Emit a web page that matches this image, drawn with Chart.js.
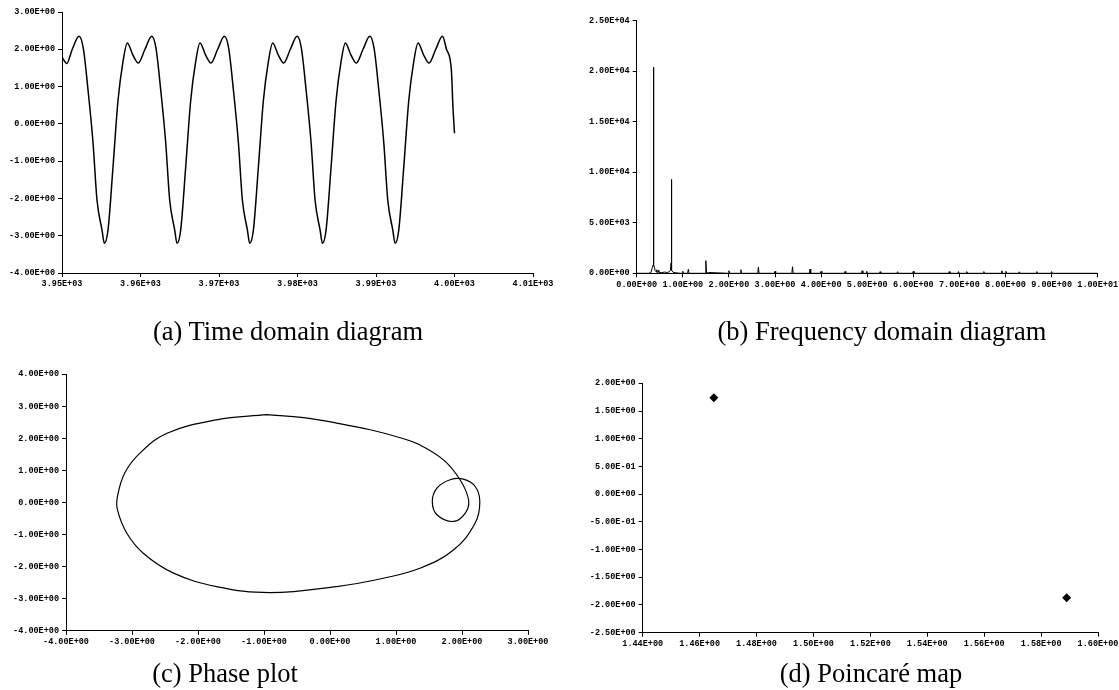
<!DOCTYPE html>
<html>
<head>
<meta charset="utf-8">
<script src="https://cdn.jsdelivr.net/npm/chart.js@4"></script>
<style>
html, body { margin: 0; padding: 0; width: 1119px; height: 690px; overflow: hidden; background: #fff; }
canvas { position: absolute; left: 0; top: 0; }
.cap { position: absolute; font-family: "Liberation Serif", "Times New Roman", serif; font-size: 26.5px; line-height: 1; white-space: nowrap; transform: translateX(-50%); color: #000; }
</style>
</head>
<body>
<canvas id="timeChart" width="1200" height="690"></canvas>
<canvas id="freqChart" width="1200" height="690"></canvas>
<canvas id="phaseChart" width="1200" height="690"></canvas>
<canvas id="poinChart" width="1200" height="690"></canvas>
<div class="cap" style="left:288px; top:318px">(a) Time domain diagram</div>
<div class="cap" style="left:882px; top:318px">(b) Frequency domain diagram</div>
<div class="cap" style="left:225px; top:660px">(c) Phase plot</div>
<div class="cap" style="left:871px; top:660px">(d) Poincaré map</div>
<script>
// (a) time domain
var timeT = [3950.00, 3950.60, 3951.31,
  3952.17, 3952.72, 3953.32, 3953.95, 3954.46, 3955.10, 3955.39, 3955.86, 3956.50, 3957.14, 3957.74, 3958.32, 3959.02, 3959.72, 3960.57,
  3961.43, 3961.98, 3962.58, 3963.21, 3963.72, 3964.36, 3964.65, 3965.12, 3965.76, 3966.40, 3967.00, 3967.58, 3968.28, 3968.98, 3969.83,
  3970.69, 3971.24, 3971.84, 3972.47, 3972.98, 3973.62, 3973.91, 3974.38, 3975.02, 3975.66, 3976.26, 3976.84, 3977.54, 3978.24, 3979.09,
  3979.95, 3980.50, 3981.10, 3981.73, 3982.24, 3982.88, 3983.17, 3983.64, 3984.28, 3984.92, 3985.52, 3986.10, 3986.80, 3987.50, 3988.35,
  3989.21, 3989.76, 3990.36, 3990.99, 3991.50, 3992.14, 3992.43, 3992.90, 3993.54, 3994.18, 3994.78, 3995.36, 3996.06, 3996.76, 3997.61,
  3998.47, 3998.98, 3999.60, 3999.80, 4000.00];
var timeV = [1.79, 1.62, 2.00,
  2.35, 2.02, 0.90, -0.50, -2.05, -2.85, -3.20, -2.85, -1.15, 0.64, 1.63, 2.17, 1.85, 1.63, 2.00,
  2.35, 2.02, 0.90, -0.50, -2.05, -2.85, -3.20, -2.85, -1.15, 0.64, 1.63, 2.17, 1.85, 1.63, 2.00,
  2.35, 2.02, 0.90, -0.50, -2.05, -2.85, -3.20, -2.85, -1.15, 0.64, 1.63, 2.17, 1.85, 1.63, 2.00,
  2.35, 2.02, 0.90, -0.50, -2.05, -2.85, -3.20, -2.85, -1.15, 0.64, 1.63, 2.17, 1.85, 1.63, 2.00,
  2.35, 2.02, 0.90, -0.50, -2.05, -2.85, -3.20, -2.85, -1.15, 0.64, 1.63, 2.17, 1.85, 1.63, 2.00,
  2.35, 2.00, 1.45, 0.46, -0.25];

// (b) frequency domain
var freqF = [0.00, 0.26, 0.31, 0.34, 0.355, 0.36, 0.365, 0.37, 0.375, 0.385, 0.40, 0.42, 0.43, 0.44, 0.46, 0.47, 0.48, 0.53, 0.60, 0.66,
  0.71, 0.73, 0.745, 0.75, 0.755, 0.765, 0.79, 0.84, 0.94, 0.985, 1.00, 1.015, 1.105, 1.12, 1.135, 1.485, 1.50, 1.515, 1.56,
  1.985, 2.00, 2.015, 2.245, 2.26, 2.275, 2.625, 2.64, 2.655, 2.985, 3.00, 3.015, 3.365, 3.38, 3.395, 3.745, 3.76, 3.775,
  3.985, 4.00, 4.015, 4.505, 4.52, 4.535, 4.875, 4.89, 4.905, 4.975, 4.99, 5.005, 5.265, 5.28, 5.295, 5.645, 5.66, 5.675,
  5.985, 6.00, 6.015, 6.765, 6.78, 6.795, 6.965, 6.98, 6.995, 7.145, 7.16, 7.175, 7.515, 7.53, 7.545, 7.905, 7.92, 7.935,
  7.995, 8.01, 8.025, 8.285, 8.30, 8.315, 8.665, 8.68, 8.695, 8.985, 9.00, 9.015, 10.00];
var freqA = [0, 0, 80, 600, 800, 2100, 700, 20400, 800, 600, 250, 150, 350, 120, 100, 300, 100, 60, 120, 80,
  150, 300, 1000, 9300, 900, 300, 100, 60, 0, 0, 200, 0, 0, 400, 0, 0, 1250, 0, 80,
  0, 250, 0, 0, 350, 0, 0, 620, 0, 0, 200, 0, 0, 650, 0, 0, 420, 0,
  0, 200, 0, 0, 180, 0, 0, 250, 0, 0, 200, 0, 0, 160, 0, 0, 160, 0,
  0, 200, 0, 0, 170, 0, 0, 170, 0, 0, 170, 0, 0, 170, 0, 0, 250, 0,
  0, 200, 0, 0, 150, 0, 0, 170, 0, 0, 170, 0, 0];

// (c) phase plot, clockwise from the top
var phaseX = [-0.96, -0.40, 0.10, 0.61, 1.05, 1.36, 1.72, 1.97, 2.10, 2.05, 1.87, 1.62, 1.55, 1.62, 1.82, 2.02, 2.20, 2.27, 2.20, 1.87,
  1.36, 0.81, 0.10, -0.91, -1.72, -2.37, -2.83, -3.08, -3.22, -3.22, -3.11, -2.88, -2.47, -1.72, -0.96];
var phaseY = [2.74, 2.65, 2.48, 2.27, 2.03, 1.80, 1.33, 0.71, 0.08, -0.33, -0.59, -0.38, 0.03, 0.45, 0.71, 0.73, 0.50, 0.03, -0.64, -1.48,
  -2.05, -2.36, -2.62, -2.81, -2.62, -2.20, -1.58, -0.95, -0.23, 0.19, 0.92, 1.54, 2.16, 2.58, 2.74];

// (d) poincare map
var poinX = [1.465, 1.589];
var poinY = [1.74, -1.87];

// tick values
var timeXTicks = [3950, 3960, 3970, 3980, 3990, 4000, 4010];
var timeYTicks = [-4, -3, -2, -1, 0, 1, 2, 3];
var freqXTicks = [0, 1, 2, 3, 4, 5, 6, 7, 8, 9, 10];
var freqYTicks = [0, 5000, 10000, 15000, 20000, 25000];
var phaseXTicks = [-4, -3, -2, -1, 0, 1, 2, 3];
var phaseYTicks = [-4, -3, -2, -1, 0, 1, 2, 3, 4];
var poinXTicks = [1.44, 1.46, 1.48, 1.50, 1.52, 1.54, 1.56, 1.58, 1.60];
var poinYTicks = [-2.5, -2, -1.5, -1, -0.5, 0, 0.5, 1, 1.5, 2];

// 3.95E+03 style labels
function fmtE(v) {
  if (Math.abs(v) < 1e-9) v = 0;
  var parts = v.toExponential(2).split("e");
  var ex = parseInt(parts[1], 10);
  var sign = ex < 0 ? "-" : "+";
  ex = Math.abs(ex);
  return parts[0] + "E" + sign + (ex < 10 ? "0" + ex : ex);
}

function toPoints(xs, ys) {
  return xs.map(function (x, i) { return { x: x, y: ys[i] }; });
}

var Y_W = 70, X_H = 20;

function axis(vals, isX) {
  return {
    type: "linear",
    min: vals[0],
    max: vals[vals.length - 1],
    afterBuildTicks: function (s) { s.ticks = vals.map(function (v) { return { value: v }; }); },
    afterFit: function (s) { if (isX) s.height = X_H; else s.width = Y_W; },
    grid: { display: true, drawOnChartArea: false, drawTicks: true, tickLength: 4, color: "#000", lineWidth: 1 },
    border: { display: true, color: "#000", width: 1 },
    ticks: {
      autoSkip: false, maxRotation: 0, minRotation: 0,
      padding: isX ? 2 : 3,
      color: "#000",
      font: { family: "Liberation Mono", size: 8.5, weight: "bold" },
      callback: function (v) { return fmtE(v); }
    }
  };
}

// area = [left, right, top, bottom] of the plot box in page pixels
function makeChart(id, datasets, xVals, yVals, area) {
  return new Chart(document.getElementById(id), {
    type: "scatter",
    data: { datasets: datasets },
    options: {
      responsive: false,
      animation: false,
      devicePixelRatio: 1,
      layout: { padding: { left: area[0] - Y_W, right: 1200 - area[1], top: area[2], bottom: 690 - area[3] - X_H } },
      plugins: { legend: { display: false }, tooltip: { enabled: false } },
      scales: { x: axis(xVals, true), y: axis(yVals, false) }
    }
  });
}

makeChart("timeChart", [{
  data: toPoints(timeT, timeV),
  showLine: true, pointRadius: 0, borderColor: "#000", borderWidth: 1.5,
  cubicInterpolationMode: "monotone"
}], timeXTicks, timeYTicks, [62, 533, 12, 273]);

makeChart("freqChart", [{
  data: toPoints(freqF, freqA),
  showLine: true, pointRadius: 0, borderColor: "#000", borderWidth: 1, tension: 0
}], freqXTicks, freqYTicks, [636.7, 1097.7, 20.7, 273.3]);

makeChart("phaseChart", [{
  data: toPoints(phaseX, phaseY),
  showLine: true, pointRadius: 0, borderColor: "#000", borderWidth: 1.2, tension: 0.4
}], phaseXTicks, phaseYTicks, [66, 528, 374.3, 630.8]);

makeChart("poinChart", [{
  data: toPoints(poinX, poinY),
  showLine: false, pointStyle: "rectRot", pointRadius: 4.5,
  backgroundColor: "#000", borderColor: "#000", borderWidth: 0
}], poinXTicks, poinYTicks, [642.7, 1098, 383.3, 632.7]);
</script>
</body>
</html>
